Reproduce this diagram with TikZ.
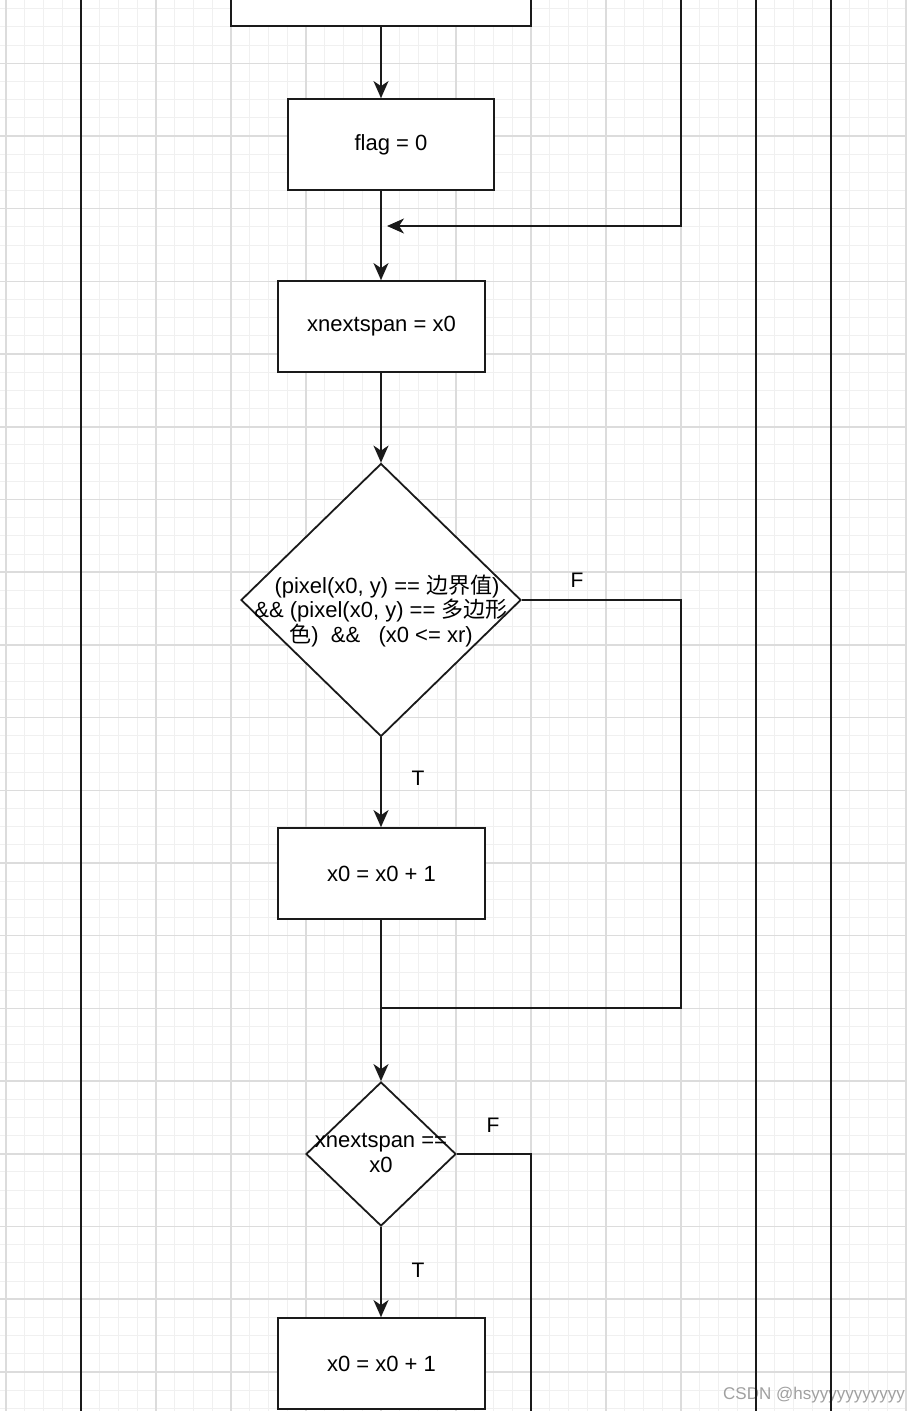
\documentclass[tikz,border=0pt]{standalone}
\usepackage{fontspec}
\setmainfont{Liberation Sans}
\newfontfamily\cjk{Noto Sans CJK SC}
\usetikzlibrary{shapes.geometric,arrows.meta}
\definecolor{gmajor}{HTML}{DCDCDC}
\definecolor{gminor}{HTML}{F0F0F0}
\definecolor{linec}{HTML}{1A1A1A}
\definecolor{wm}{HTML}{A0A0A0}
\tikzset{
  minorg/.style={draw=gminor, line width=1pt},
  majorg/.style={draw=gmajor, line width=1.5pt},
  lane/.style={draw=linec, line width=2pt},
  ln/.style={draw=linec, line width=1.8pt},
  arr/.style={ln, -{Stealth[length=17pt,width=15pt,inset=5pt]}},
  stepbox/.style={draw=linec, fill=white, line width=1.8pt, inner sep=0pt,
    minimum width=207pt, minimum height=91pt, font=\fontsize{22}{24}\selectfont},
  decision/.style={draw=linec, fill=white, line width=1.8pt, diamond, inner sep=0pt},
  txt/.style={inner sep=0pt, align=center, font=\fontsize{22}{22}\selectfont},
  lbl/.style={inner sep=0pt, font=\fontsize{21}{21}\selectfont}
}
\begin{document}
\begin{tikzpicture}[x=1pt,y=-1pt]
\useasboundingbox (0,0) rectangle (907,1411);
\clip (0,0) rectangle (907,1411);
\fill[white] (0,0) rectangle (907,1411);
% grid
\foreach \i in {0,...,48} \draw[minorg] ({6+18.75*\i},0) -- ++(0,1411);
\foreach \j in {-3,...,74} \draw[minorg] (0,{63.3+18.175*\j}) -- ++(907,0);
\foreach \i in {0,...,12} \draw[majorg] ({6+75*\i},0) -- ++(0,1411);
\foreach \j in {-1,...,18} \draw[majorg] (0,{63.3+72.7*\j}) -- ++(907,0);
% watermark
\node[inner sep=0pt, anchor=east, text=wm, font=\fontsize{17}{17}\selectfont] (wmk) at (905,1395) {CSDN @hsyyyyyyyyyyy};
% lane lines
\draw[lane] (81,0) -- (81,1411);
\draw[lane] (756,0) -- (756,1411);
\draw[lane] (831,0) -- (831,1411);
% nodes
\node[stepbox, minimum width=300pt, minimum height=92pt] (top) at (381,-20) {};
\node[stepbox, minimum width=206pt] (flag) at (391,144.5) {flag = 0};
\node[stepbox] (xn) at (381.5,326.5) {xnextspan = x0};
\node[decision, minimum width=280pt, minimum height=273pt] (d1) at (381,600) {};
\node[txt] (d1t) at (381,611) {\hspace*{12pt}(pixel(x0, y) == {\cjk 边界值})\\ \&\& (pixel(x0, y) == {\cjk 多边形}\\{\cjk 色})\ \ \&\&\ \ \ (x0 <= xr)};
\node[stepbox] (b3) at (381.5,873.5) {x0 = x0 + 1};
\node[decision, minimum width=150pt, minimum height=144pt] (d2) at (381,1154) {};
\node[txt, font=\fontsize{22}{25}\selectfont] (d2t) at (381,1153) {xnextspan ==\\x0};
\node[stepbox] (b4) at (381.5,1363.5) {x0 = x0 + 1};
% labels
\node[lbl] (f1) at (577,580) {F};
\node[lbl] (t1) at (418,778) {T};
\node[lbl] (f2) at (493,1125) {F};
\node[lbl] (t2) at (418,1270) {T};
% coordinates
\coordinate (fbt) at (681,-5);
\coordinate (m1) at (387,226);
\coordinate (c1) at (681,1008);
\coordinate (j2) at (381,1008);
\coordinate (e2) at (531,1420);
% connectors
\draw[arr] (top.south) -- (top.south |- flag.north);
\draw[arr] (flag.south -| d1.north) -- (d1.north |- xn.north);
\draw[arr] (fbt) |- (m1);
\draw[arr] (d1.north |- xn.south) -- (d1.north);
\draw[arr] (d1.south) -- (d1.south |- b3.north);
\draw[arr] (d1.south |- b3.south) -- (d2.north);
\draw[ln] (d1.east) -| (c1) -- (j2);
\draw[arr] (d2.south) -- (d2.south |- b4.north);
\draw[ln] (d2.east) -| (e2);
\end{tikzpicture}
\end{document}
